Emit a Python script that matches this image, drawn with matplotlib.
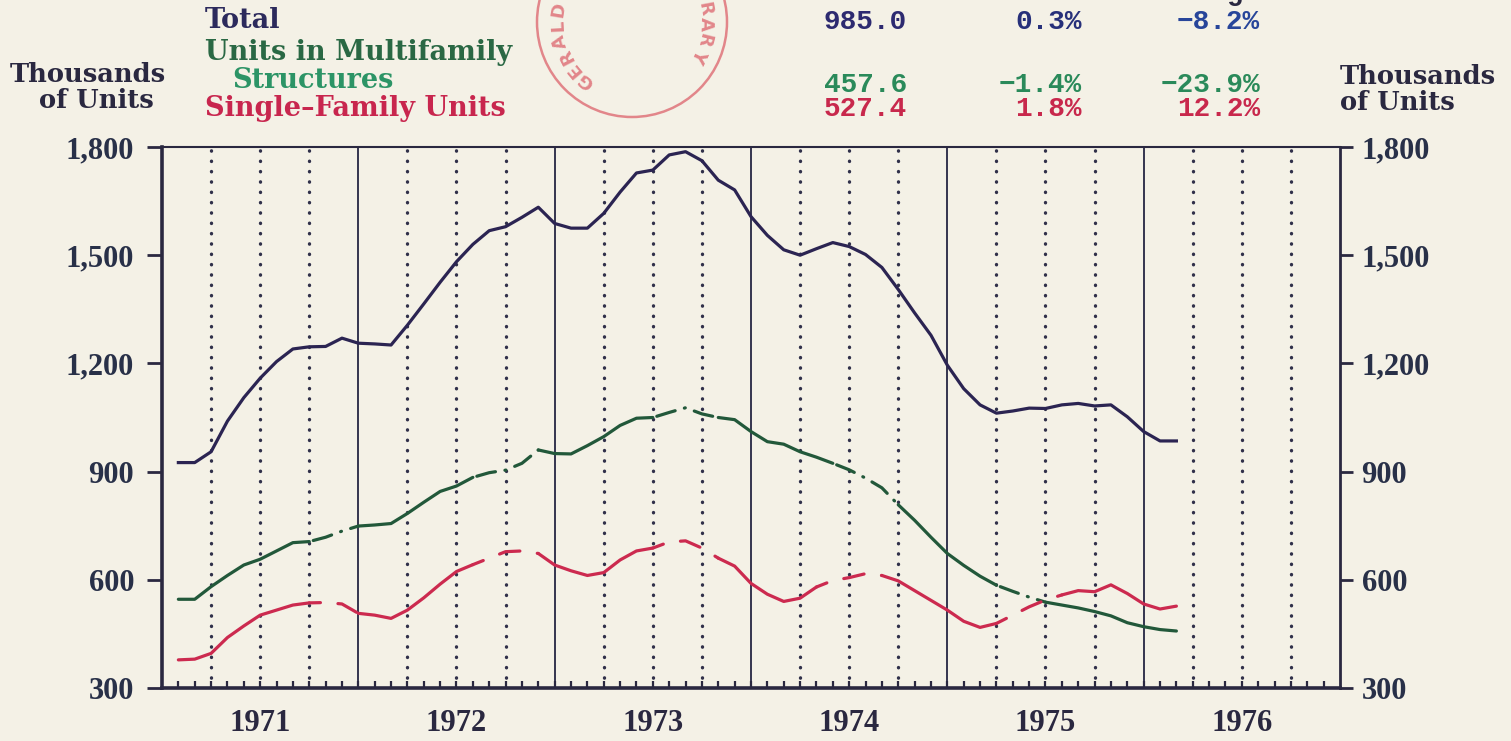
import matplotlib
matplotlib.use("Agg")
import matplotlib.pyplot as plt
import numpy as np
from matplotlib.ticker import FixedLocator
from matplotlib.patches import Circle

# ---------------- data (thousands of units, monthly, Feb 1971 .. Mar 1976) ----------------
month_index = list(range(1, 63))
total = [925, 925, 955, 1040, 1105, 1159, 1205, 1240, 1246, 1247, 1270, 1256,
         1254, 1251, 1306, 1365, 1425, 1482, 1530, 1568, 1579, 1605, 1633, 1588,
         1575, 1575, 1616, 1675, 1728, 1736, 1778, 1787, 1762, 1708, 1681, 1607,
         1555, 1515, 1500, 1518, 1535, 1524, 1502, 1466, 1405, 1340, 1278, 1195,
         1130, 1085, 1062, 1068, 1076, 1075, 1085, 1089, 1082, 1085, 1052, 1011,
         985, 985]
multifamily = [546, 546, 581, 612, 641, 657, 680, 703, 706, 718, 735, 749,
               752, 756, 784, 815, 845, 860, 884, 897, 904, 923, 960, 950,
               949, 972, 997, 1028, 1048, 1050, 1064, 1077, 1060, 1050, 1044, 1011,
               983, 976, 955, 940, 923, 905, 882, 855, 808, 765, 718, 673,
               640, 610, 585, 568, 552, 538, 530, 522, 512, 500, 481, 470,
               462, 458]
single = [378, 380, 396, 440, 472, 502, 516, 530, 536, 537, 533, 507,
          502, 493, 516, 550, 588, 623, 642, 660, 678, 680, 673, 641,
          625, 612, 620, 655, 680, 688, 705, 708, 688, 660, 638, 590,
          560, 540, 549, 580, 598, 606, 617, 612, 597, 570, 543, 516,
          485, 468, 479, 502, 525, 544, 558, 570, 567, 586, 562, 533,
          519, 527]

year_labels = ["1971", "1972", "1973", "1974", "1975", "1976"]
y_ticks = [300, 600, 900, 1200, 1500, 1800]
y_labels = ["300", "600", "900", "1,200", "1,500", "1,800"]

legend_names = ["Total", "Units in Multifamily", "Structures", "Single\u2013Family Units"]
col_headers = ["Period", "Last Mo.", "Year Ago"]
total_stats = ["985.0", "0.3%", "\u22128.2%"]
multi_stats = ["457.6", "\u22121.4%", "\u221223.9%"]
single_stats = ["527.4", "1.8%", "12.2%"]

# pen-lift (broken line) stretches, as month indices
multi_broken = [(9, 12), (19, 23), (30, 34), (41, 45), (51, 54)]
single_broken = [(9, 12), (19, 23), (30, 34), (40, 44), (51, 55)]

# ---------------- style ----------------
BG = "#f4f1e6"
INK = "#2a2840"
C_TOTAL = "#2b2452"
C_MULTI = "#22583a"
C_SINGLE = "#cc2a4f"
SERIF = ["DejaVu Serif"]
DIGITS = ["Liberation Serif", "DejaVu Serif"]
MONO = ["Liberation Mono", "DejaVu Sans Mono"]

W, H = 1511, 741
fig = plt.figure(figsize=(W / 100, H / 100), dpi=100, facecolor=BG)
L, R, T, B = 162, 1340, 147, 688
ax = fig.add_axes([L / W, 1 - B / H, (R - L) / W, (B - T) / H])
ax.set_facecolor(BG)

x = 1971 + np.array(month_index) / 12.0
ax.set_xlim(1971, 1977)
ax.set_ylim(300, 1800)

# grid: dotted quarter lines, solid year boundaries
for yr in range(1971, 1977):
    for q in (0.25, 0.5, 0.75):
        ax.axvline(yr + q, color="#30304a", lw=2.4, ls=(0, (0.1, 3.0)),
                   dash_capstyle="round", zorder=1)
    if yr > 1971:
        ax.axvline(yr, color="#34344e", lw=1.4, zorder=1)


def draw_series(xv, yv, broken, color, broken_ls):
    xv = np.asarray(xv)
    yv = np.asarray(yv)
    prev = 0
    for a, b in broken:
        i0, i1 = a - 1, b - 1
        ax.plot(xv[prev:i0 + 1], yv[prev:i0 + 1], color=color, lw=2.3,
                solid_capstyle="round", zorder=3)
        ax.plot(xv[i0:i1 + 1], yv[i0:i1 + 1], color=color, lw=2.3, ls=broken_ls,
                dash_capstyle="round", zorder=3)
        prev = i1
    ax.plot(xv[prev:], yv[prev:], color=color, lw=2.3, solid_capstyle="round", zorder=3)


ax.plot(x, total, color=C_TOTAL, lw=2.3, zorder=3)
draw_series(x, multifamily, multi_broken, C_MULTI, (2, (0.3, 3.0, 6.0, 3.0)))
draw_series(x, single, single_broken, C_SINGLE, (3, (6.5, 5.5)))

# spines
for side, lw in (("left", 2.6), ("bottom", 2.6), ("top", 1.5), ("right", 2.0)):
    ax.spines[side].set_linewidth(lw)
    ax.spines[side].set_color(INK)

# x axis: year labels at mid-year, monthly inward minor ticks
ax.xaxis.remove_overlapping_locs = False
ax.set_xticks([1971.5 + i for i in range(len(year_labels))])
ax.set_xticklabels(year_labels, fontfamily=DIGITS, fontweight="bold", fontsize=22, color=INK)
ax.tick_params(axis="x", which="major", length=0, pad=15)
ax.xaxis.set_minor_locator(FixedLocator(1971 + np.arange(1, 72) / 12.0))
ax.tick_params(axis="x", which="minor", direction="in", length=5, width=1.6, color=INK,
               top=False)

# y axis, left and right
ax.set_yticks(y_ticks)
ax.set_yticklabels(y_labels, fontfamily=DIGITS, fontweight="bold", fontsize=22, color="#283048")
ax.tick_params(axis="y", which="major", direction="out", length=11, width=2.0, color=INK, pad=9)
ax2 = ax.twinx()
ax2.set_ylim(300, 1800)
ax2.set_yticks(y_ticks)
ax2.set_yticklabels(y_labels, fontfamily=DIGITS, fontweight="bold", fontsize=22, color="#283048")
ax2.tick_params(axis="y", which="major", direction="out", length=9.5, width=2.0, color=INK, pad=6)
for s in ax2.spines.values():
    s.set_visible(False)

# ---------------- header overlay (pixel coordinates) ----------------
ov = fig.add_axes([0, 0, 1, 1], zorder=5)
ov.set_xlim(0, W)
ov.set_ylim(H, 0)
ov.axis("off")
ov.patch.set_alpha(0)

lab_kw = dict(fontfamily=SERIF, fontweight="bold", fontsize=18.5, va="center")
leg_kw = dict(fontfamily=SERIF, fontweight="bold", fontsize=19.5, va="center")
ov.text(88, 74, "Thousands", color=INK, ha="center", **lab_kw)
ov.text(96, 101, "of Units", color=INK, ha="center", **lab_kw)
ov.text(1340, 77, "Thousands", color=INK, ha="left", **lab_kw)
ov.text(1340, 103, "of Units", color=INK, ha="left", **lab_kw)

ov.text(205, 21, legend_names[0], color="#2c2a5c", ha="left", **leg_kw)
ov.text(205, 53, legend_names[1], color="#2a6844", ha="left", **leg_kw)
ov.text(232, 81, legend_names[2], color="#2c9466", ha="left", **leg_kw)
ov.text(205, 109, legend_names[3], color="#c8264e", ha="left", **leg_kw)

col_right = [907, 1082, 1260]
num_kw = dict(fontfamily=MONO, fontweight="bold", fontsize=20, va="center", ha="right")
for cx, txt in zip(col_right, col_headers):
    ov.text(cx, -7, txt, color=INK, **num_kw)
for cx, txt, c in zip(col_right, total_stats, ["#2d2a70", "#27307a", "#27459a"]):
    ov.text(cx, 22, txt, color=c, **num_kw)
for cx, txt in zip(col_right, multi_stats):
    ov.text(cx, 85, txt, color="#2a8a5a", **num_kw)
for cx, txt in zip(col_right, single_stats):
    ov.text(cx, 109, txt, color="#c8284c", **num_kw)

# library stamp
STAMP = "#e2868a"
cxs, cys, rs = 632, 22, 95
ov.add_patch(Circle((cxs, cys), rs, fill=False, ec=STAMP, lw=1.8))
stamp_text = "GERALD R. FORD LIBRARY"
for i, ch in enumerate(stamp_text):
    th = np.deg2rad(232 - i * 12.3)
    px = cxs + 74 * np.cos(th)
    py = cys - 74 * np.sin(th)
    ov.text(px, py, ch, color=STAMP, fontsize=13, fontfamily=["DejaVu Sans"],
            fontweight="bold", ha="center", va="center", rotation=np.rad2deg(th) - 90)

fig.savefig("out.png", dpi=100, facecolor=BG)
